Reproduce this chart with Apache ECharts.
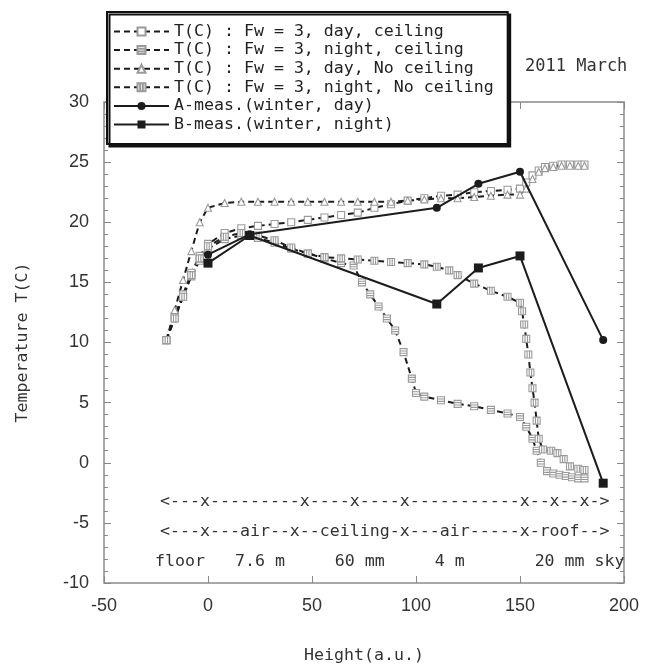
<!DOCTYPE html>
<html>
<head>
<meta charset="utf-8">
<script src="https://cdn.jsdelivr.net/npm/echarts@6/dist/echarts.min.js"></script>
<style>
  html, body { margin: 0; padding: 0; background: #fff; }
  #chart { width: 649px; height: 664px; }
</style>
</head>
<body>
<div id="chart"></div>
<script>
// Simulated temperature profiles, Fw = 3 (height in a.u., temperature in C)
const dayCeilH   = [-20, -16, -12, -8, -4, 0, 8, 16, 24, 32, 40, 48, 56, 64, 72, 80, 88, 96, 104, 112, 120, 128, 136, 144, 150, 153, 156, 159, 162, 166, 170, 174, 178, 181];
const dayCeilT   = [10.2, 12.2, 14.0, 15.8, 17.2, 18.2, 19.1, 19.5, 19.7, 19.85, 20.0, 20.2, 20.4, 20.6, 20.8, 21.2, 21.5, 21.8, 22.0, 22.2, 22.3, 22.5, 22.6, 22.7, 22.8, 23.3, 23.9, 24.3, 24.6, 24.7, 24.8, 24.8, 24.8, 24.8];

const nightCeilH = [-20, -16, -12, -8, -4, 0, 8, 16, 24, 32, 40, 48, 56, 64, 70, 74, 78, 82, 86, 90, 94, 98, 100, 104, 112, 120, 128, 136, 144, 150, 153, 156, 158, 160, 163, 166, 169, 172, 175, 178, 181];
const nightCeilT = [10.2, 12.0, 13.8, 15.5, 16.8, 17.8, 18.6, 18.9, 18.7, 18.3, 17.8, 17.4, 17.0, 16.6, 16.4, 15.0, 14.0, 13.0, 12.0, 11.0, 9.2, 7.0, 5.8, 5.5, 5.2, 4.9, 4.7, 4.4, 4.1, 3.8, 3.0, 2.0, 1.0, 0.0, -0.7, -0.9, -1.0, -1.1, -1.2, -1.3, -1.3];

const dayOpenH   = [-20, -16, -12, -8, -4, 0, 8, 16, 24, 32, 40, 48, 56, 64, 72, 80, 88, 96, 104, 112, 120, 128, 136, 144, 150, 153, 156, 159, 162, 166, 170, 174, 178, 181];
const dayOpenT   = [10.2, 12.7, 15.2, 17.6, 20.0, 21.2, 21.6, 21.7, 21.7, 21.7, 21.7, 21.7, 21.7, 21.7, 21.7, 21.7, 21.7, 21.8, 21.9, 22.0, 22.0, 22.1, 22.2, 22.3, 22.3, 22.8, 23.6, 24.2, 24.5, 24.6, 24.7, 24.7, 24.7, 24.7];

const nightOpenH = [-20, -16, -12, -8, -4, 0, 8, 16, 24, 32, 40, 48, 56, 64, 72, 80, 88, 96, 104, 110, 116, 120, 128, 136, 144, 150, 151, 152, 153, 154, 155, 156, 157, 158, 159, 161, 165, 168, 171, 174, 178, 181];
const nightOpenT = [10.2, 12.0, 13.8, 15.6, 17.0, 18.0, 18.8, 19.1, 18.9, 18.5, 17.9, 17.4, 17.1, 17.0, 16.9, 16.8, 16.7, 16.6, 16.5, 16.3, 16.0, 15.6, 14.9, 14.3, 13.8, 13.3, 12.6, 11.5, 10.3, 9.0, 7.5, 6.2, 5.0, 3.5, 2.0, 1.1, 1.0, 0.8, 0.3, -0.3, -0.5, -0.6];

// Measurements, winter
const measAH = [0, 20, 110, 130, 150, 190];
const measAT = [17.3, 19.0, 21.2, 23.2, 24.2, 10.2];
const measBH = [0, 20, 110, 130, 150, 190];
const measBT = [16.6, 18.9, 13.2, 16.2, 17.2, -1.7];

const seriesNames = [
  'T(C) : Fw = 3, day, ceiling',
  'T(C) : Fw = 3, night, ceiling',
  'T(C) : Fw = 3, day, No ceiling',
  'T(C) : Fw = 3, night, No ceiling',
  'A-meas.(winter, day)',
  'B-meas.(winter, night)'
];

// Layer layout written along the height axis
const layerRow1 = '<---x---------x----x----x-----------x--x--x->';
const layerRow2 = '<---x---air--x--ceiling-x---air-----x-roof-->';
const layerRow3 = 'floor   7.6 m     60 mm     4 m       20 mm sky';
const periodNote = '2011 March';

const xTitle = 'Height(a.u.)';
const yTitle = 'Temperature T(C)';

const zip = (xs, ys) => xs.map((x, i) => [x, ys[i]]);

const MONO = '"DejaVu Sans Mono", "Liberation Mono", monospace';
const INK = '#1c1c1c';
const MARK = '#9a9a9a';

function simSeries(name, xs, ys, symbol) {
  return {
    name, type: 'line', data: zip(xs, ys),
    symbol, symbolSize: 7,
    lineStyle: { color: INK, width: 2, type: [6, 4] },
    itemStyle: { color: '#fff', borderColor: MARK, borderWidth: 1.1 },
    z: 2
  };
}
function measSeries(name, xs, ys, symbol, size) {
  return {
    name, type: 'line', data: zip(xs, ys),
    symbol, symbolSize: size,
    lineStyle: { color: INK, width: 2, type: 'solid' },
    itemStyle: { color: INK, borderColor: INK, borderWidth: 0 },
    z: 3
  };
}

const hLines = 'path://M0,0H10V10H0ZM0,3.3H10M0,6.7H10';
const vLines = 'path://M0,0H10V10H0ZM3.3,0V10M6.7,0V10';

const chart = echarts.init(document.getElementById('chart'), null, { renderer: 'canvas' });

const axisLbl = { fontFamily: '"Liberation Sans", Arial, sans-serif', fontSize: 18, color: '#333' };
const tickStyle = { color: '#888', width: 1 };
const hiddenLine = { show: false, onZero: false };

chart.setOption({
  animation: false,
  backgroundColor: '#fff',
  grid: {
    left: 104, right: 25, top: 102, bottom: 81,
    outerBoundsMode: 'none', containLabel: false,
    show: true, borderColor: '#8a8a8a', borderWidth: 1.5, backgroundColor: 'transparent'
  },
  xAxis: [
    {
      type: 'value', min: -50, max: 200, interval: 50, position: 'bottom',
      name: xTitle, nameLocation: 'middle', nameGap: 64,
      nameTextStyle: { fontFamily: MONO, fontSize: 16.6, color: '#333' },
      axisLine: hiddenLine,
      axisTick: { show: true, inside: true, length: 7, lineStyle: tickStyle },
      axisLabel: Object.assign({ margin: 14 }, axisLbl),
      splitLine: { show: false }
    },
    {
      type: 'value', min: -50, max: 200, interval: 50, position: 'top',
      axisLine: hiddenLine,
      axisTick: { show: true, inside: true, length: 7, lineStyle: tickStyle },
      axisLabel: { show: false }, splitLine: { show: false }
    }
  ],
  yAxis: [
    {
      type: 'value', min: -10, max: 30, interval: 5, position: 'left',
      name: yTitle, nameLocation: 'middle', nameGap: 73,
      nameTextStyle: { fontFamily: MONO, fontSize: 16.6, color: '#333' },
      axisLine: hiddenLine,
      axisTick: { show: true, inside: true, length: 7, lineStyle: tickStyle },
      minorTick: { show: true, splitNumber: 5, length: 4, lineStyle: tickStyle },
      axisLabel: Object.assign({ margin: 15 }, axisLbl),
      splitLine: { show: false }
    },
    {
      type: 'value', min: -10, max: 30, interval: 5, position: 'right',
      axisLine: hiddenLine,
      axisTick: { show: true, inside: true, length: 7, lineStyle: tickStyle },
      minorTick: { show: true, splitNumber: 5, length: 4, lineStyle: tickStyle },
      axisLabel: { show: false }, splitLine: { show: false }
    }
  ],
  legend: {
    orient: 'vertical', left: 107, top: 12,
    padding: [11, 14, 11, 6],
    itemWidth: 55, itemHeight: 10, itemGap: 1.6,
    backgroundColor: '#fff',
    borderColor: '#111', borderWidth: 2,
    shadowColor: '#111', shadowBlur: 0, shadowOffsetX: 2.5, shadowOffsetY: 2.5,
    textStyle: { fontFamily: MONO, fontSize: 16.6, lineHeight: 16, color: '#222' },
    data: seriesNames,
    z: 10
  },
  graphic: [
    { type: 'text', x: 160, y: 502, z: 5, style: { text: layerRow1, fontFamily: MONO, fontSize: 16.6, fill: '#333', verticalAlign: 'middle' } },
    { type: 'text', x: 160, y: 532, z: 5, style: { text: layerRow2, fontFamily: MONO, fontSize: 16.6, fill: '#333', verticalAlign: 'middle' } },
    { type: 'text', x: 155, y: 562, z: 5, style: { text: layerRow3, fontFamily: MONO, fontSize: 16.6, fill: '#333', verticalAlign: 'middle' } },
    { type: 'text', x: 525, y: 67, z: 5, style: { text: periodNote, fontFamily: MONO, fontSize: 17, fill: '#333', verticalAlign: 'middle' } }
  ],
  series: [
    simSeries(seriesNames[0], dayCeilH, dayCeilT, 'rect'),
    simSeries(seriesNames[1], nightCeilH, nightCeilT, hLines),
    simSeries(seriesNames[2], dayOpenH, dayOpenT, 'triangle'),
    simSeries(seriesNames[3], nightOpenH, nightOpenT, vLines),
    measSeries(seriesNames[4], measAH, measAT, 'circle', 8),
    measSeries(seriesNames[5], measBH, measBT, 'rect', 9)
  ]
});
</script>
</body>
</html>
